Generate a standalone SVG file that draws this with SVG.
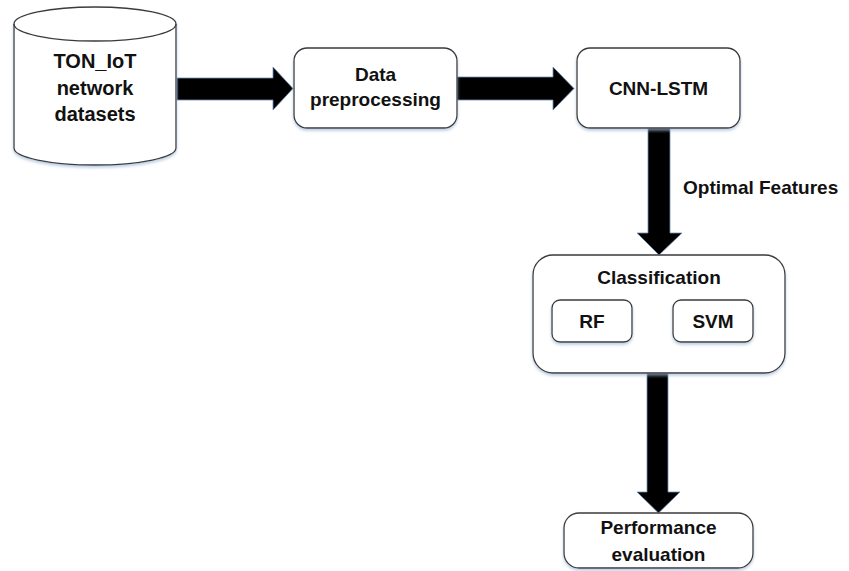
<svg xmlns="http://www.w3.org/2000/svg" width="849" height="571" viewBox="0 0 849 571">
<style>
.box{fill:#fff;stroke:#3a3a3a;stroke-width:1.3;filter:url(#sh)}
.t{font-family:"Liberation Sans",Arial,sans-serif;font-weight:bold;font-size:19px;fill:#111;text-anchor:middle}
.arr{fill:#000;stroke:#6d8fb8;stroke-width:0.8}
</style>
<defs>
<filter id="sh" x="-10%" y="-10%" width="120%" height="130%">
<feDropShadow dx="0" dy="2" stdDeviation="1.5" flood-color="#9fb6d4" flood-opacity="0.7"/>
</filter>
</defs>
<rect width="849" height="571" fill="#fff"/>
<g id="connectors">
<polygon class="arr" points="177,78 273,78 273,67 293,88.5 273,110 273,100 177,100"/>
<polygon class="arr" points="457,77 553,77 553,67 574,88.5 553,110 553,100 457,100"/>
<polygon class="arr" points="648,128 670,128 670,233 682,233 659,255 637,233 648,233"/>
<polygon class="arr" points="647,373 668,373 668,492 680,492 658.5,513 637,492 647,492"/>
<text x="683" y="194" class="t" style="text-anchor:start">Optimal Features</text>
</g>
<g id="dataset">
<path class="box" d="M14,24 L14,148 A81,17 0 0 0 176,148 L176,24 A81,17 0 0 0 14,24 Z"/>
<path d="M14,24 A81,17 0 0 0 176,24" fill="none" stroke="#3a3a3a" stroke-width="1.3"/>
<text x="95" y="68" class="t" style="font-size:20px">TON_IoT</text>
<text x="95" y="95" class="t" style="font-size:20px">network</text>
<text x="95" y="121" class="t" style="font-size:20px">datasets</text>
</g>
<g id="preprocessing">
<rect class="box" x="294" y="48" width="163" height="80" rx="13"/>
<text x="375.5" y="81" class="t">Data</text>
<text x="375.5" y="106" class="t">preprocessing</text>
</g>
<g id="cnnlstm">
<rect class="box" x="577" y="48" width="163" height="80" rx="13"/>
<text x="658.5" y="95" class="t">CNN-LSTM</text>
</g>
<g id="classification">
<rect class="box" x="533" y="255" width="252" height="118" rx="20"/>
<text x="659" y="284" class="t">Classification</text>
</g>
<g id="rf">
<rect class="box" x="552" y="300" width="80" height="42" rx="8"/>
<text x="592" y="328" class="t">RF</text>
</g>
<g id="svm">
<rect class="box" x="673" y="300" width="80" height="42" rx="8"/>
<text x="713" y="328" class="t">SVM</text>
</g>
<g id="performance">
<rect class="box" x="564" y="513" width="189" height="55" rx="15"/>
<text x="658.5" y="534" class="t">Performance</text>
<text x="658.5" y="561" class="t">evaluation</text>
</g>
</svg>
